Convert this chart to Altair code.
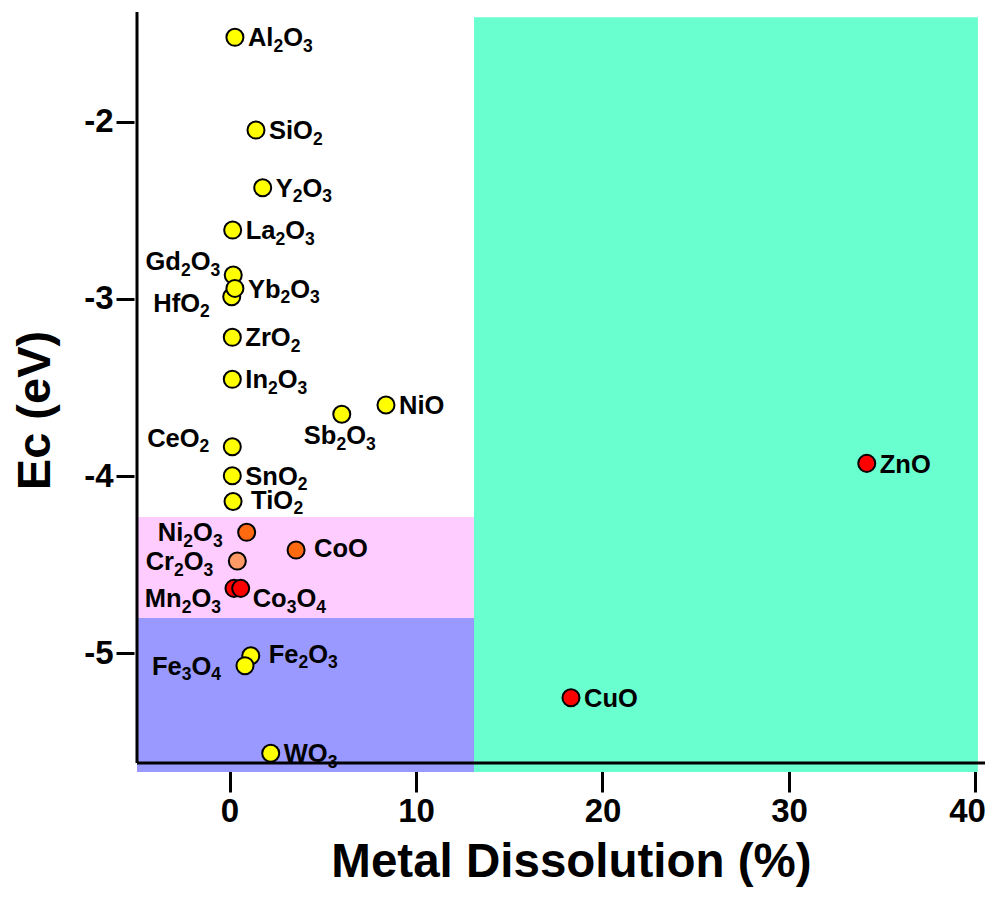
import altair as alt
import pandas as pd
import re

# ---- data ----
names = ["Al2O3", "SiO2", "Y2O3", "La2O3", "Gd2O3", "HfO2", "Yb2O3", "ZrO2", "In2O3",
         "NiO", "Sb2O3", "CeO2", "SnO2", "TiO2", "Ni2O3", "CoO", "Cr2O3", "Mn2O3",
         "Co3O4", "Fe2O3", "Fe3O4", "WO3", "ZnO", "CuO"]
dissolution = [0.29, 1.42, 1.78, 0.17, 0.20, 0.12, 0.29, 0.15, 0.15,
               8.39, 6.02, 0.15, 0.15, 0.19, 0.92, 3.57, 0.42, 0.24,
               0.60, 1.14, 0.83, 2.21, 34.17, 18.31]
ec = [-1.525, -2.048, -2.373, -2.612, -2.866, -2.988, -2.941, -3.217, -3.454,
      -3.599, -3.651, -3.834, -3.998, -4.143, -4.317, -4.417, -4.479, -4.633,
      -4.633, -5.013, -5.069, -5.563, -3.928, -5.250]
group = ["Y"] * 14 + ["O", "O", "S", "R", "R", "Y", "Y", "Y", "R", "R"]
label_side = ["r", "r", "r", "r", "lu", "lh", "r", "r", "r",
              "r", "b", "lc", "r", "r2", "l", "r2", "l", "ld",
              "rd", "r2", "l", "r", "r", "r"]

# background zones (data coordinates)
zone_x1 = [-4.96, -4.96, 13.11]
zone_x2 = [13.11, 13.11, 40.13]
zone_y1 = [-4.231, -4.800, -1.411]
zone_y2 = [-4.800, -5.669, -5.669]
zone_color = ["#FFCCFF", "#9999FF", "#6AFFCE"]

x_ticks = [0, 10, 20, 30, 40]
y_ticks = [-2, -3, -4, -5]
XMIN, XMAX = -4.96, 40.51
YMIN, YMAX = -5.618, -1.382

# ---- styles / layout ----
W, H = 848, 751
FONT = "Liberation Sans"
FS = 25.5          # label font size
FS_SUB = 17.5      # subscript font size
group_domain = ["Y", "O", "S", "R"]
group_range = ["#FFFF00", "#FF6A10", "#FF9966", "#FF0000"]
placement = {            # dx, dy (pixels), align
    "r": (13, 0, "left"),
    "r2": (18, -2, "left"),
    "rd": (12, 10, "left"),
    "l": (-24, 0, "right"),
    "lu": (-13, -14, "right"),
    "ld": (-13, 10, "right"),
    "lh": (-22, 6, "right"),
    "lc": (-23, -9, "right"),
    "b": (-2, 21, "center"),
}
# Arial/Liberation Sans Bold advance widths (per 1000 em)
ADV = {"A": 722, "C": 722, "F": 611, "G": 778, "H": 722, "I": 278, "L": 611,
       "M": 833, "N": 722, "O": 778, "S": 667, "T": 611, "W": 944, "Y": 667,
       "Z": 611, "a": 556, "b": 611, "d": 611, "e": 556, "f": 333, "i": 278,
       "l": 278, "n": 611, "o": 611, "r": 389, "u": 611}
DIGIT = 556


def split_formula(s):
    return [(p, p.isdigit()) for p in re.findall(r"\d+|\D+", s)]


def seg_width(t, sub):
    if sub:
        return len(t) * DIGIT / 1000 * FS_SUB
    return sum(ADV.get(c, 600) for c in t) / 1000 * FS


# label pieces: each keeps its point's data position plus a pixel offset
rows = []
for n, xv, yv, pos in zip(names, dissolution, ec, label_side):
    dx, dy, align = placement[pos]
    segs = split_formula(n)
    total = sum(seg_width(t, s) for t, s in segs)
    start = dx if align == "left" else (dx - total if align == "right" else dx - total / 2)
    base = dy + 0.358 * FS
    cur = start
    for t, s in segs:
        rows.append({"x": xv, "y": yv, "t": t, "sub": s, "ox": cur,
                     "oy": base + (0.21 * FS if s else 0)})
        cur += seg_width(t, s)
seg_df = pd.DataFrame(rows)

df = pd.DataFrame({"name": names, "x": dissolution, "y": ec, "g": group})
zones = pd.DataFrame({"x1": zone_x1, "x2": zone_x2, "y1": zone_y1,
                      "y2": zone_y2, "c": zone_color})

xscale = alt.Scale(domain=[XMIN, XMAX], nice=False, zero=False)
yscale = alt.Scale(domain=[YMIN, YMAX], nice=False, zero=False)
PXX = W / (XMAX - XMIN)   # pixels per x unit
PXY = H / (YMAX - YMIN)   # pixels per y unit

xaxis = alt.Axis(values=x_ticks, title="Metal Dissolution (%)", grid=False,
                 format="d", domain=False, offset=8, tickSize=21, tickWidth=3,
                 tickColor="black", labelFont=FONT, labelFontWeight="bold",
                 labelFontSize=33, labelColor="black", labelPadding=3,
                 labelFlush=12, labelFlushOffset=10,
                 titleFont=FONT, titleFontWeight="bold", titleFontSize=47.5,
                 titleColor="black", titlePadding=10, titleX=434)
yaxis = alt.Axis(values=y_ticks, title="Ec (eV)", grid=False, format="d",
                 domain=False, offset=3, tickSize=18, tickWidth=3,
                 tickColor="black", labelFont=FONT, labelFontWeight="bold",
                 labelFontSize=33, labelColor="black", labelPadding=3,
                 labelExpr="replace(datum.label, '−', '-')",
                 titleFont=FONT, titleFontWeight="bold", titleFontSize=47,
                 titleColor="black", titlePadding=24, titleY=398)

bg = alt.Chart(zones).mark_rect().encode(
    x=alt.X("x1:Q", scale=xscale, axis=xaxis),
    x2="x2:Q",
    y=alt.Y("y1:Q", scale=yscale, axis=yaxis),
    y2="y2:Q",
    color=alt.Color("c:N", scale=None),
)

xline = alt.Chart().mark_rule(color="black", strokeWidth=3).encode(
    x=alt.datum(XMIN), x2=alt.datum(XMAX), y=alt.datum(YMIN))
yline = alt.Chart().mark_rule(color="black", strokeWidth=3).encode(
    x=alt.datum(XMIN), y=alt.datum(YMIN), y2=alt.datum(YMAX))

pts = alt.Chart(df).mark_point(filled=True, shape="circle", size=290,
                               stroke="black", strokeWidth=2, opacity=1).encode(
    x="x:Q", y="y:Q",
    fill=alt.Fill("g:N", scale=alt.Scale(domain=group_domain, range=group_range),
                  legend=None),
)


def text_layer(frame, size):
    return alt.Chart(frame).transform_calculate(
        lx=f"datum.x + datum.ox / {PXX}",
        ly=f"datum.y - datum.oy / {PXY}",
    ).mark_text(align="left", baseline="alphabetic", font=FONT,
                fontWeight="bold", fontSize=size, color="black").encode(
        x="lx:Q", y="ly:Q", text="t:N")


main_txt = text_layer(seg_df[~seg_df["sub"]], FS)
sub_txt = text_layer(seg_df[seg_df["sub"]], FS_SUB)

chart = alt.layer(bg, xline, yline, pts, main_txt, sub_txt).properties(
    width=W, height=H,
    autosize=alt.AutoSizeParams(type="none"),
    padding={"left": 129, "top": 4, "right": 1, "bottom": 133},
).configure_view(stroke=None)

chart.save("out.html", embed_options={"renderer": "svg", "actions": False})
